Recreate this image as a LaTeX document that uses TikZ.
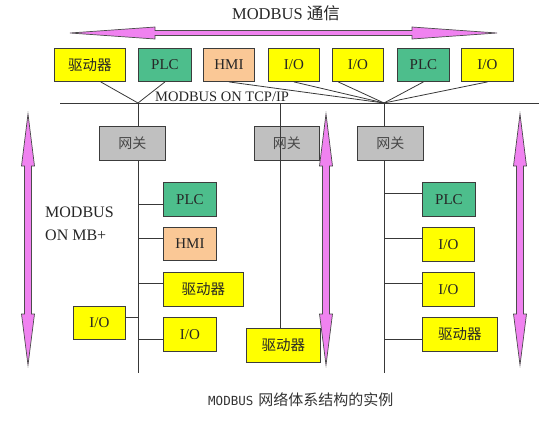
\documentclass[tikz,border=0pt]{standalone}
\usepackage{fontspec}
\setmainfont{Liberation Serif}
\newfontfamily\cjk{Noto Sans CJK SC}
\newfontfamily\monof{DejaVu Sans Mono}
\usetikzlibrary{calc}
\definecolor{ylw}{RGB}{255,255,0}
\definecolor{plcg}{RGB}{77,190,140}
\definecolor{hmip}{RGB}{250,200,150}
\definecolor{gwg}{RGB}{192,192,192}
\definecolor{pinka}{RGB}{240,130,240}
\definecolor{edge}{RGB}{60,60,60}
\tikzset{
 box/.style={draw=edge, line width=0.9pt, inner sep=0pt, anchor=north west, font=\fontsize{15}{15}\selectfont, text=black!85},
 ybox/.style={box, fill=ylw},
 gbox/.style={box, fill=plcg},
 hbox/.style={box, fill=hmip},
 gwbox/.style={box, fill=gwg, minimum height=34pt, font=\cjk\fontsize{14}{14}\selectfont, text=black!72},
 cjkb/.style={font=\cjk\fontsize{14.5}{14.5}\selectfont},
 wire/.style={draw=black!78, line width=0.8pt},
 fatarrow/.style={fill=pinka, draw=black!70, line width=0.7pt},
}
\begin{document}
\begin{tikzpicture}[x=1pt,y=-1pt]
\useasboundingbox (0,0) rectangle (554,426);
% title
\node[font=\fontsize{16.5}{16.5}\selectfont, text=black!85] (title) at (286,13) {MODBUS {\cjk 通信}};
% top double arrow
\draw[fatarrow] (70,33) -- (155,27) -- (155,30.5) -- (412,30.5) -- (412,27) -- (497,33)
  -- (412,39) -- (412,35.5) -- (155,35.5) -- (155,39) -- cycle;
% vertical double arrows
\foreach \c in {28,326,520}{
 \draw[fatarrow] (\c,114) -- (\c+6.5,166) -- (\c+3.5,166) -- (\c+3.5,314) -- (\c+6.5,314)
   -- (\c,365) -- (\c-6.5,314) -- (\c-3.5,314) -- (\c-3.5,166) -- (\c-6.5,166) -- cycle;
}
% bus and trunks
\coordinate (busL) at (60,103);
\coordinate (busR) at (539,103);
\coordinate (j1) at (138,103);
\coordinate (m1) at (280,103);
\coordinate (j2) at (384,103);
\coordinate (e1) at (138,373);
\coordinate (e3) at (384,373);
\draw[wire] (busL) -- (busR);
\draw[wire] (j1) -- (e1);
\draw[wire] (j2) -- (e3);
\node[font=\fontsize{14.5}{14.5}\selectfont, text=black!85, anchor=base west, inner sep=0pt] (tcp) at (155,101.5) {MODBUS ON TCP/IP};
% top boxes
\node[ybox, minimum width=71pt, minimum height=33pt, cjkb] (d1) at (54,48) {驱动器};
\node[gbox, minimum width=53pt, minimum height=33pt] (p1) at (138,48) {PLC};
\node[hbox, minimum width=51pt, minimum height=33pt] (h1) at (203,48) {HMI};
\node[ybox, minimum width=51pt, minimum height=33pt] (io1) at (268,48) {I/O};
\node[ybox, minimum width=51pt, minimum height=33pt] (io2) at (332,48) {I/O};
\node[gbox, minimum width=52pt, minimum height=33pt] (p2) at (397,48) {PLC};
\node[ybox, minimum width=52pt, minimum height=33pt] (io3) at (461,48) {I/O};
% top connectors
\draw[wire] ($(d1.south west)!0.65!(d1.south east)$) -- (j1);
\draw[wire] (p1.south) -- (j1);
\draw[wire] (h1.south) -- (j2);
\draw[wire] (io1.south) -- (j2);
\draw[wire] ($(io2.south west)!0.12!(io2.south east)$) -- (j2);
\draw[wire] (p2.south) -- (j2);
\draw[wire] (io3.south) -- (j2);
% gateways
\node[gwbox, minimum width=66pt] (g1) at (99,126) {网关};
\node[gwbox, minimum width=65pt] (g2) at (254,126) {网关};
\node[gwbox, minimum width=66pt] (g3) at (357,126) {网关};
% left network
\node[font=\fontsize{16}{23}\selectfont, text=black!85, align=left, anchor=west, inner sep=0pt] (mbp) at (45,223.5) {MODBUS\\ON MB+};
\node[gbox, minimum width=53pt, minimum height=34pt] (lp) at (163,182) {PLC};
\node[hbox, minimum width=53pt, minimum height=33pt] (lh) at (163,227) {HMI};
\node[ybox, minimum width=80pt, minimum height=34pt, cjkb] (ld) at (163,272) {驱动器};
\node[ybox, minimum width=53pt, minimum height=34pt] (lio) at (163,317) {I/O};
\node[ybox, minimum width=52pt, minimum height=33pt] (lio2) at (73,306) {I/O};
\coordinate (lpb) at ($(lp.north west)!0.65!(lp.south west)$);
\coordinate (lhb) at ($(lh.north west)!0.33!(lh.south west)$);
\coordinate (ldb) at ($(ld.north west)!0.32!(ld.south west)$);
\coordinate (liob) at ($(lio.north west)!0.65!(lio.south west)$);
\coordinate (lio2b) at ($(lio2.north east)!0.33!(lio2.south east)$);
\draw[wire] (lpb) -- (lpb -| j1);
\draw[wire] (lhb) -- (lhb -| j1);
\draw[wire] (ldb) -- (ldb -| j1);
\draw[wire] (liob) -- (liob -| j1);
\draw[wire] (lio2b) -- (lio2b -| j1);
% middle network
\node[ybox, minimum width=74pt, minimum height=34pt, cjkb] (md) at (246,328) {驱动器};
\draw[wire] (m1) -- (m1 |- md.north);
% right network
\node[gbox, minimum width=53pt, minimum height=34pt] (rp) at (422,182) {PLC};
\node[ybox, minimum width=52pt, minimum height=34pt] (rio1) at (422,227) {I/O};
\node[ybox, minimum width=52pt, minimum height=34pt] (rio2) at (422,272) {I/O};
\node[ybox, minimum width=75pt, minimum height=34pt, cjkb] (rd) at (422,317) {驱动器};
\coordinate (rpb) at ($(rp.north west)!0.32!(rp.south west)$);
\coordinate (rio1b) at ($(rio1.north west)!0.32!(rio1.south west)$);
\coordinate (rio2b) at ($(rio2.north west)!0.32!(rio2.south west)$);
\coordinate (rdb) at ($(rd.north west)!0.65!(rd.south west)$);
\draw[wire] (rpb) -- (rpb -| j2);
\draw[wire] (rio1b) -- (rio1b -| j2);
\draw[wire] (rio2b) -- (rio2b -| j2);
\draw[wire] (rdb) -- (rdb -| j2);
% caption
\node[anchor=west, inner sep=0pt, text=black!80] (cap) at (208,400) {{\monof\fontsize{12.5}{12.5}\selectfont MODBUS}\hspace{5pt}{\cjk\fontsize{15}{15}\selectfont 网络体系结构的实例}};
\end{tikzpicture}
\end{document}
